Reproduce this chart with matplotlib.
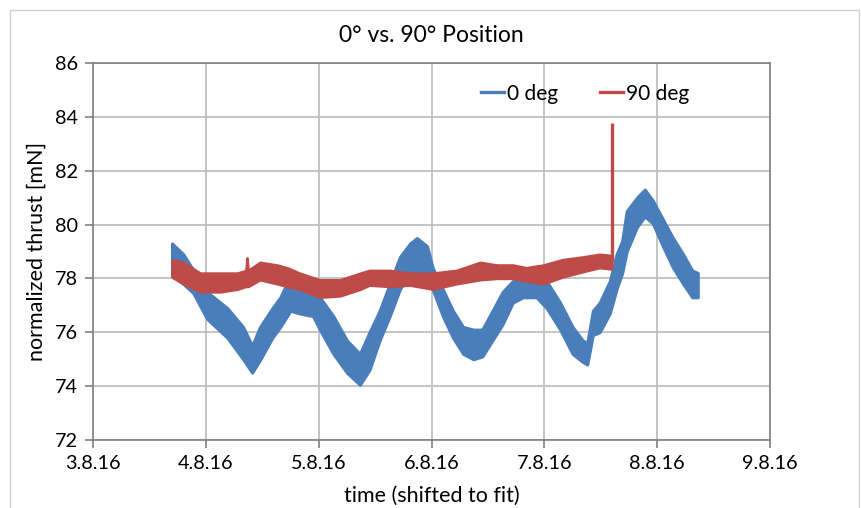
import numpy as np
import pandas as pd
import matplotlib
matplotlib.use("Agg")
import matplotlib.pyplot as plt
import matplotlib.dates as mdates
import matplotlib.ticker as mticker
from matplotlib.patches import Rectangle

#%% data (day of August 2016, band low/high in mN)
day_0 = [3.70, 3.80, 3.89, 4.01, 4.19, 4.33, 4.41, 4.48, 4.59, 4.66, 4.75, 4.83,
         4.95, 5.01, 5.13, 5.25, 5.365, 5.45, 5.54, 5.63, 5.72, 5.81, 5.87, 5.96,
         6.01, 6.10, 6.19, 6.28, 6.37, 6.45, 6.54, 6.63, 6.72, 6.81, 6.93, 7.02,
         7.14, 7.25, 7.34, 7.38, 7.43, 7.49, 7.58, 7.64, 7.69, 7.73, 7.82, 7.89,
         7.96, 8.05, 8.14, 8.23, 8.31, 8.36]
low_0 = [78.1, 77.8, 77.45, 76.5, 75.8, 75.0, 74.5, 74.97, 75.8, 76.2, 76.8, 76.7,
         76.6, 76.1, 75.2, 74.5, 74.05, 74.6, 75.7, 76.6, 77.6, 78.2, 78.2, 77.9,
         77.6, 76.6, 75.8, 75.2, 75.0, 75.1, 75.7, 76.3, 77.1, 77.3, 77.3, 76.9,
         76.1, 75.2, 74.9, 74.8, 75.9, 76.0, 76.7, 77.6, 78.2, 79.0, 79.9, 80.3,
         80.05, 79.2, 78.4, 77.8, 77.3, 77.3]
high_0 = [79.3, 78.9, 78.3, 77.5, 76.9, 76.2, 75.5, 76.2, 76.9, 77.3, 78.1, 78.0,
          77.6, 77.3, 76.6, 75.7, 75.2, 76.0, 76.8, 77.8, 78.8, 79.3, 79.5, 79.2,
          78.4, 77.6, 76.8, 76.2, 76.1, 76.1, 76.8, 77.5, 77.9, 78.2, 78.4, 77.9,
          77.1, 76.2, 75.7, 75.6, 76.8, 77.1, 77.9, 78.9, 79.4, 80.5, 81.0, 81.3,
          80.9, 80.2, 79.5, 78.9, 78.3, 78.2]

day_90 = [3.70, 3.80, 3.95, 4.13, 4.28, 4.355, 4.365, 4.375, 4.48, 4.63, 4.72,
          4.83, 5.01, 5.19, 5.37, 5.45, 5.63, 5.81, 6.01, 6.22, 6.43, 6.58, 6.72,
          6.84, 6.99, 7.16, 7.34, 7.49, 7.597]
low_90 = [78.05, 77.8, 77.5, 77.5, 77.6, 77.7, 77.7, 77.7, 77.95, 77.8, 77.7,
          77.6, 77.3, 77.35, 77.6, 77.75, 77.7, 77.75, 77.6, 77.8, 77.95, 78.0, 78.0,
          77.9, 77.8, 78.05, 78.25, 78.4, 78.35]
high_90 = [78.7, 78.6, 78.2, 78.2, 78.2, 78.3, 78.76, 78.3, 78.6, 78.5, 78.4,
           78.2, 77.95, 77.95, 78.2, 78.3, 78.3, 78.2, 78.2, 78.3, 78.6, 78.5, 78.5,
           78.4, 78.5, 78.7, 78.8, 78.9, 78.85]

spike_day_90 = 7.597
spike_top_90 = 83.77

labels = ['0 deg', '90 deg']
blue = '#4a7ebb'
red = '#be4b48'


def to_time(days):
    return pd.Timestamp('2016-08-01') + pd.to_timedelta(np.asarray(days) - 1, unit='D')


#%% plot
plt.rcParams['font.family'] = ['Lato', 'DejaVu Sans']
fig = plt.figure(figsize=(8.61, 5.08), dpi=100)
ax = fig.add_axes([93 / 861, 68 / 508, 677 / 861, 377 / 508])

# outer chart frame
fig.patches.append(Rectangle((10 / 861, -0.05), 849 / 861, 1.05 - 10 / 508,
                             transform=fig.transFigure, fill=False,
                             edgecolor='#d0d0d0', linewidth=1.0))

t0 = to_time(day_0)
t90 = to_time(day_90)
ax.fill_between(t0, low_0, high_0, color=blue, linewidth=2.2, edgecolor=blue,
                zorder=3)
ax.fill_between(t90, low_90, high_90, color=red, linewidth=1.8, edgecolor=red,
                zorder=4)
st = to_time([spike_day_90])[0]
ax.vlines(st, high_90[-1] - 0.2, spike_top_90, color=red, linewidth=2.4, zorder=4)

# legend handles
ax.plot([], [], color=blue, linewidth=2.4, label=labels[0])
ax.plot([], [], color=red, linewidth=2.4, label=labels[1])

ax.set_xlim(to_time([3])[0], to_time([9])[0])
ax.set_ylim(72, 86)
ax.xaxis.set_major_locator(mdates.DayLocator())
ax.xaxis.set_major_formatter(mticker.FuncFormatter(
    lambda v, p: (lambda d: f"{d.day}.{d.month}.{d.strftime('%y')}")(mdates.num2date(v))))
ax.yaxis.set_major_locator(mticker.MultipleLocator(2))

ax.grid(True, color='#bfbfbf', linewidth=1.3, zorder=0)
ax.set_axisbelow(True)
for s in ax.spines.values():
    s.set_color('#808080')
    s.set_linewidth(1.2)
ax.tick_params(axis='both', colors='#808080', length=6, width=1.2,
               labelsize=14.3, labelcolor='black', pad=5)

ax.set_title('0° vs. 90° Position', fontsize=16.5, pad=15)
ax.set_xlabel('time (shifted to fit)', fontsize=15.5, labelpad=10)
ax.set_ylabel('normalized thrust [mN]', fontsize=15.5, labelpad=6)

ax.legend(loc='upper right', bbox_to_anchor=(0.908, 0.995), ncol=2, frameon=False,
          fontsize=15, handlelength=1.1, handletextpad=0.15, columnspacing=2.0)

fig.savefig('out.png', dpi=100)
